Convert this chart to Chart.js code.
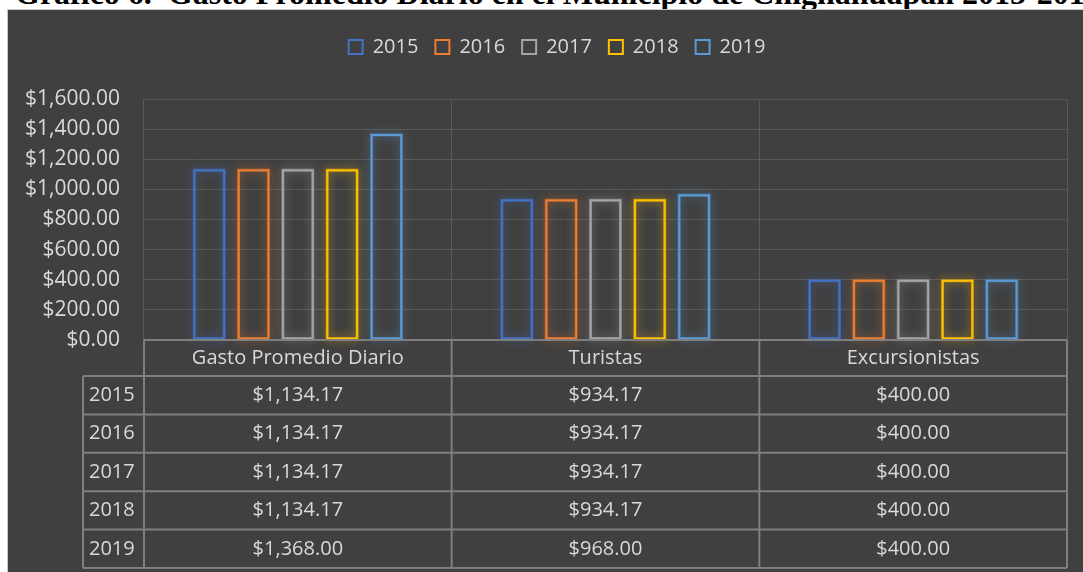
<!DOCTYPE html>
<html>
<head>
<meta charset="utf-8">
<script src="https://cdn.jsdelivr.net/npm/chart.js@4.4.1/dist/chart.umd.min.js"></script>
<style>
html, body { margin: 0; padding: 0; background: #fff; width: 1083px; height: 572px; overflow: hidden; position: relative; }
#titulo { position: absolute; left: 15px; top: -23px; font: bold 32px "Liberation Serif"; line-height: 32px; white-space: nowrap; color: #000; }
#marco { position: absolute; left: 7px; top: 9px; width: 1098px; height: 570px; background: #404040; border: 1px solid #c8c8c8; }
canvas { display: block; }
</style>
</head>
<body>
<div id="titulo">Gráfico 6.&nbsp; Gasto Promedio Diario en el Municipio de Chignahuapan 2015-2019</div>
<div id="marco"><canvas id="grafico" width="1098" height="570"></canvas></div>
<script>
// datos del grafico
const categorias = ['Gasto Promedio Diario', 'Turistas', 'Excursionistas'];
const anios = ['2015', '2016', '2017', '2018', '2019'];
const valores2015 = [1134.17, 934.17, 400];
const valores2016 = [1134.17, 934.17, 400];
const valores2017 = [1134.17, 934.17, 400];
const valores2018 = [1134.17, 934.17, 400];
const valores2019 = [1368.00, 968.00, 400];
const series = [valores2015, valores2016, valores2017, valores2018, valores2019];
const colores = ['#4472C4', '#ED7D31', '#A5A5A5', '#FFC000', '#5B9BD5'];

const textoColor = '#d9d9d9';
const fuente = '"Open Sans", "Noto Sans", sans-serif';

function moneda(v) {
    return '$' + Number(v).toLocaleString('en-US', { minimumFractionDigits: 2, maximumFractionDigits: 2 });
}

// brillo alrededor de las barras
const brilloPlugin = {
    id: 'brillo',
    beforeDatasetsDraw(chart) {
        const ctx = chart.ctx;
        chart.data.datasets.forEach((ds, i) => {
            chart.getDatasetMeta(i).data.forEach(bar => {
                const p = bar.getProps(['x', 'y', 'base', 'width'], true);
                ctx.save();
                ctx.shadowColor = ds.borderColor;
                ctx.shadowBlur = 10;
                ctx.globalAlpha = 0.55;
                ctx.strokeStyle = ds.borderColor;
                ctx.lineWidth = 3;
                ctx.strokeRect(p.x - p.width / 2 + 1, p.y + 1, p.width - 2, p.base - p.y - 2);
                ctx.restore();
            });
        });
    }
};

// tabla de datos debajo del grafico
const tablaPlugin = {
    id: 'tabla',
    afterDraw(chart) {
        const { ctx, chartArea } = chart;
        const x = chart.scales.x;
        const ancho = chartArea.width / categorias.length;
        const arriba = chartArea.bottom;
        const altoEnc = 36;
        const altoFila = 38.4;
        const izq = chartArea.left;
        const der = chartArea.right;
        const izqEtiq = izq - 61;
        const abajo = arriba + altoEnc + altoFila * anios.length;

        ctx.save();
        ctx.strokeStyle = '#7f7f7f';
        ctx.lineWidth = 2;
        ctx.beginPath();
        ctx.moveTo(izq, arriba); ctx.lineTo(der, arriba);
        for (let r = 0; r <= anios.length; r++) {
            const yy = arriba + altoEnc + altoFila * r;
            ctx.moveTo(izqEtiq, yy); ctx.lineTo(der, yy);
        }
        ctx.moveTo(izqEtiq, arriba + altoEnc); ctx.lineTo(izqEtiq, abajo);
        for (let c = 0; c <= categorias.length; c++) {
            const xx = izq + ancho * c;
            ctx.moveTo(xx, arriba); ctx.lineTo(xx, abajo);
        }
        ctx.stroke();

        ctx.fillStyle = textoColor;
        ctx.font = '20px ' + fuente;
        ctx.textBaseline = 'middle';
        ctx.textAlign = 'center';
        categorias.forEach((cat, c) => {
            ctx.fillText(cat, x.getPixelForValue(c), arriba + altoEnc / 2);
        });
        anios.forEach((anio, r) => {
            const yy = arriba + altoEnc + altoFila * r + altoFila / 2;
            ctx.textAlign = 'left';
            ctx.fillText(anio, izqEtiq + 6, yy);
            ctx.textAlign = 'center';
            series[r].forEach((v, c) => {
                ctx.fillText(moneda(v), x.getPixelForValue(c), yy);
            });
        });
        ctx.restore();
    }
};

// altura fija de la leyenda
const leyendaPlugin = {
    id: 'leyendaAlto',
    beforeInit(chart) {
        const fitOriginal = chart.legend.fit;
        chart.legend.fit = function() {
            fitOriginal.bind(chart.legend)();
            this.height = 79;
        };
    }
};

const ctx = document.getElementById('grafico').getContext('2d');
new Chart(ctx, {
    type: 'bar',
    data: {
        labels: categorias,
        datasets: anios.map((anio, i) => ({
            label: anio,
            data: series[i],
            borderColor: colores[i],
            backgroundColor: 'rgba(0,0,0,0)',
            borderWidth: 2,
            borderSkipped: false,
            categoryPercentage: 0.72,
            barPercentage: 0.72
        }))
    },
    options: {
        responsive: false,
        animation: false,
        layout: { padding: { top: 10, left: 0, right: 0, bottom: 240 } },
        plugins: {
            legend: {
                position: 'top',
                labels: {
                    color: textoColor,
                    font: { family: fuente, size: 20 },
                    boxWidth: 14,
                    boxHeight: 14,
                    padding: 17
                }
            },
            tooltip: { enabled: false }
        },
        scales: {
            x: {
                ticks: { display: false },
                grid: { color: '#595959', lineWidth: 1, drawTicks: false, offset: true },
                border: { display: false },
                afterFit(s) { s.height = 0; }
            },
            y: {
                min: 0,
                max: 1600,
                ticks: {
                    stepSize: 200,
                    color: textoColor,
                    font: { family: fuente, size: 21 },
                    padding: 24,
                    callback: v => moneda(v)
                },
                grid: { color: '#595959', lineWidth: 1, drawTicks: false },
                border: { display: false },
                afterFit(s) { s.width = 136; }
            },
            margen: {
                position: 'right',
                ticks: { display: false },
                grid: { display: false, drawTicks: false },
                border: { display: false },
                afterFit(s) { s.width = 39; }
            }
        }
    },
    plugins: [brilloPlugin, tablaPlugin, leyendaPlugin]
});
</script>
</body>
</html>
